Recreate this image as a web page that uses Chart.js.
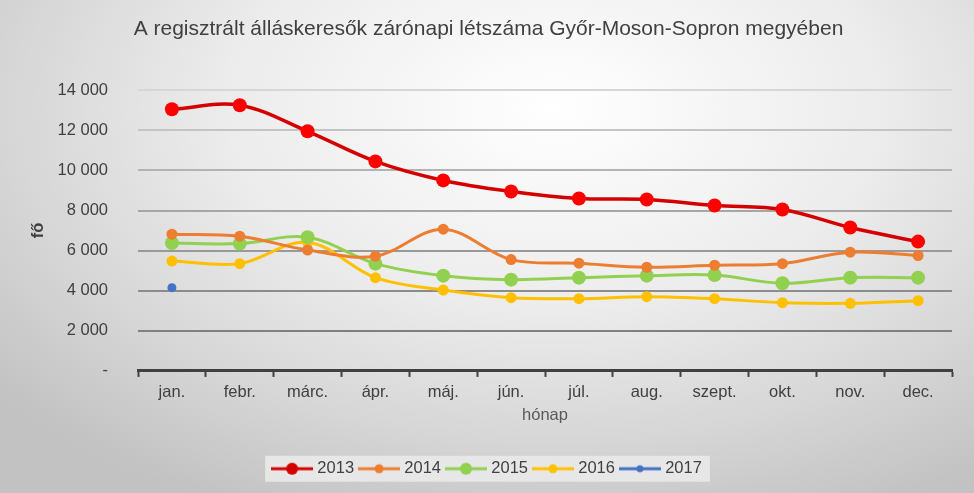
<!DOCTYPE html>
<html>
<head>
<meta charset="utf-8">
<script src="https://cdn.jsdelivr.net/npm/chart.js@4"></script>
<style>
  html, body { margin: 0; padding: 0; }
  body {
    width: 974px; height: 493px; overflow: hidden;
    background: radial-gradient(ellipse 75% 90% at 57% 22%, #ffffff 0%, #ececec 45%, #d6d6d6 75%, #c2c2c2 100%);
  }
  #wrap { width: 974px; height: 493px; }
</style>
</head>
<body>
<div id="wrap"><canvas id="chart"></canvas></div>
<script>
// ── chart data ────────────────────────────────────────────────────────────────
const months = ['jan.', 'febr.', 'márc.', 'ápr.', 'máj.', 'jún.', 'júl.', 'aug.', 'szept.', 'okt.', 'nov.', 'dec.'];

const y2013 = [13050, 13250, 11950, 10450, 9500, 8950, 8600, 8550, 8250, 8050, 7150, 6450];
const y2014 = [6820, 6720, 6030, 5720, 7070, 5550, 5370, 5170, 5270, 5350, 5920, 5750];
const y2015 = [6380, 6350, 6670, 5350, 4750, 4550, 4650, 4750, 4780, 4370, 4650, 4650];
const y2016 = [5480, 5350, 6420, 4650, 4030, 3650, 3600, 3700, 3600, 3400, 3370, 3500];
const y2017 = [4150, null, null, null, null, null, null, null, null, null, null, null];

const yTicks = [0, 2000, 4000, 6000, 8000, 10000, 12000, 14000];

const TEXT = '#404040';
const FONT = "'Liberation Sans', Arial, sans-serif";
const FS   = 16.5;

// "14 000" style, zero shown as a dash (Excel accounting format)
const fmt = v => (v === 0 ? '-' : String(v).replace(/\B(?=(\d{3})+(?!\d))/g, ' '));

// legend symbol: short line with a dot in the middle
function legendMark(color, r) {
  const c = document.createElement('canvas');
  c.width = 42; c.height = 14;
  const g = c.getContext('2d');
  g.strokeStyle = color; g.lineWidth = 3;
  g.beginPath(); g.moveTo(0, 7); g.lineTo(42, 7); g.stroke();
  g.fillStyle = color;
  g.beginPath(); g.arc(21, 7, r, 0, Math.PI * 2); g.fill();
  return c;
}

function series(label, data, line, dot, r, lw) {
  return {
    label,
    data,
    borderColor:          line,
    backgroundColor:      dot,
    pointBackgroundColor: dot,
    pointBorderColor:     dot,
    pointRadius:          r,
    pointBorderWidth:     0,
    borderWidth:          lw,
    tension:              0.35,
    legendMark:           legendMark(line, r - 1),
  };
}

const datasets = [
  series('2013', y2013, '#d40000', '#ff0000', 7, 3.5),
  series('2014', y2014, '#ed7d31', '#ed7d31', 5.5, 3),
  series('2015', y2015, '#92d050', '#92d050', 7, 3),
  series('2016', y2016, '#ffc000', '#ffc000', 5.5, 3),
  series('2017', y2017, '#4472c4', '#4472c4', 4.5, 3),
];

// light box behind the legend items, as in the original
const legendBox = {
  id: 'legendBox',
  beforeDraw(chart) {
    const l = chart.legend;
    if (!l || !l.legendHitBoxes.length) return;
    const hb = l.legendHitBoxes;
    const x0 = Math.min(...hb.map(b => b.left)) - 10;
    const x1 = Math.max(...hb.map(b => b.left + b.width)) + 8;
    const yc = hb[0].top + hb[0].height / 2;
    const ctx = chart.ctx;
    ctx.save();
    ctx.fillStyle = 'rgba(232,232,232,0.95)';
    ctx.fillRect(x0, yc - 13, x1 - x0, 26);
    ctx.restore();
  },
};

const gridShades = ['#404040', '#808080', '#8c8c8c', '#999999', '#a6a6a6', '#b3b3b3', '#c4c4c4', '#d6d6d6'];

new Chart(document.getElementById('chart'), {
  type: 'line',
  data: { labels: months, datasets },
  plugins: [legendBox],
  options: {
    responsive: true,
    maintainAspectRatio: false,
    animation: false,
    layout: { padding: { left: 25, right: 22, top: 0, bottom: 6 } },
    plugins: {
      title: {
        display: true,
        text: 'A regisztrált álláskeresők zárónapi létszáma Győr-Moson-Sopron megyében',
        color: TEXT,
        font: { family: FONT, size: 21, weight: 'normal' },
        padding: { top: 17, bottom: 48 },
      },
      legend: {
        display: true,
        position: 'bottom',
        labels: {
          color: TEXT,
          font: { family: FONT, size: FS },
          usePointStyle: true,
          pointStyleWidth: 34,
          padding: 8,
          generateLabels(chart) {
            return chart.data.datasets.map((ds, i) => ({
              text: ds.label,
              pointStyle: ds.legendMark,
              fontColor: TEXT,
              lineWidth: 0,
              datasetIndex: i,
              hidden: false,
            }));
          },
        },
      },
      tooltip: { enabled: false },
    },
    scales: {
      x: {
        offset: true,
        grid: {
          offset: true,
          drawOnChartArea: false,
          drawTicks: true,
          tickLength: 6,
          tickWidth: 2,
          tickColor: '#404040',
        },
        border: { color: '#404040', width: 3 },
        ticks: { color: TEXT, font: { family: FONT, size: FS }, padding: 6 },
        title: {
          display: true,
          text: 'hónap',
          color: '#595959',
          font: { family: FONT, size: FS },
          padding: { top: -3, bottom: 27 },
        },
      },
      y: {
        min: 0,
        max: 14000,
        afterBuildTicks(axis) { axis.ticks = yTicks.map(v => ({ value: v })); },
        afterFit(axis) { axis.width = 113; },
        grid: {
          drawTicks: false,
          color: ctx => gridShades[ctx.index] || '#a6a6a6',
          lineWidth: ctx => (ctx.index === 0 ? 0 : 2),
        },
        border: { display: false },
        ticks: {
          color: TEXT,
          padding: 30,
          font: { family: FONT, size: FS },
          callback: v => fmt(v),
        },
        title: {
          display: true,
          text: 'fő',
          color: TEXT,
          font: { family: FONT, size: FS, weight: 'bold' },
          padding: { top: 4, bottom: 0 },
        },
      },
    },
  },
});
</script>
</body>
</html>
